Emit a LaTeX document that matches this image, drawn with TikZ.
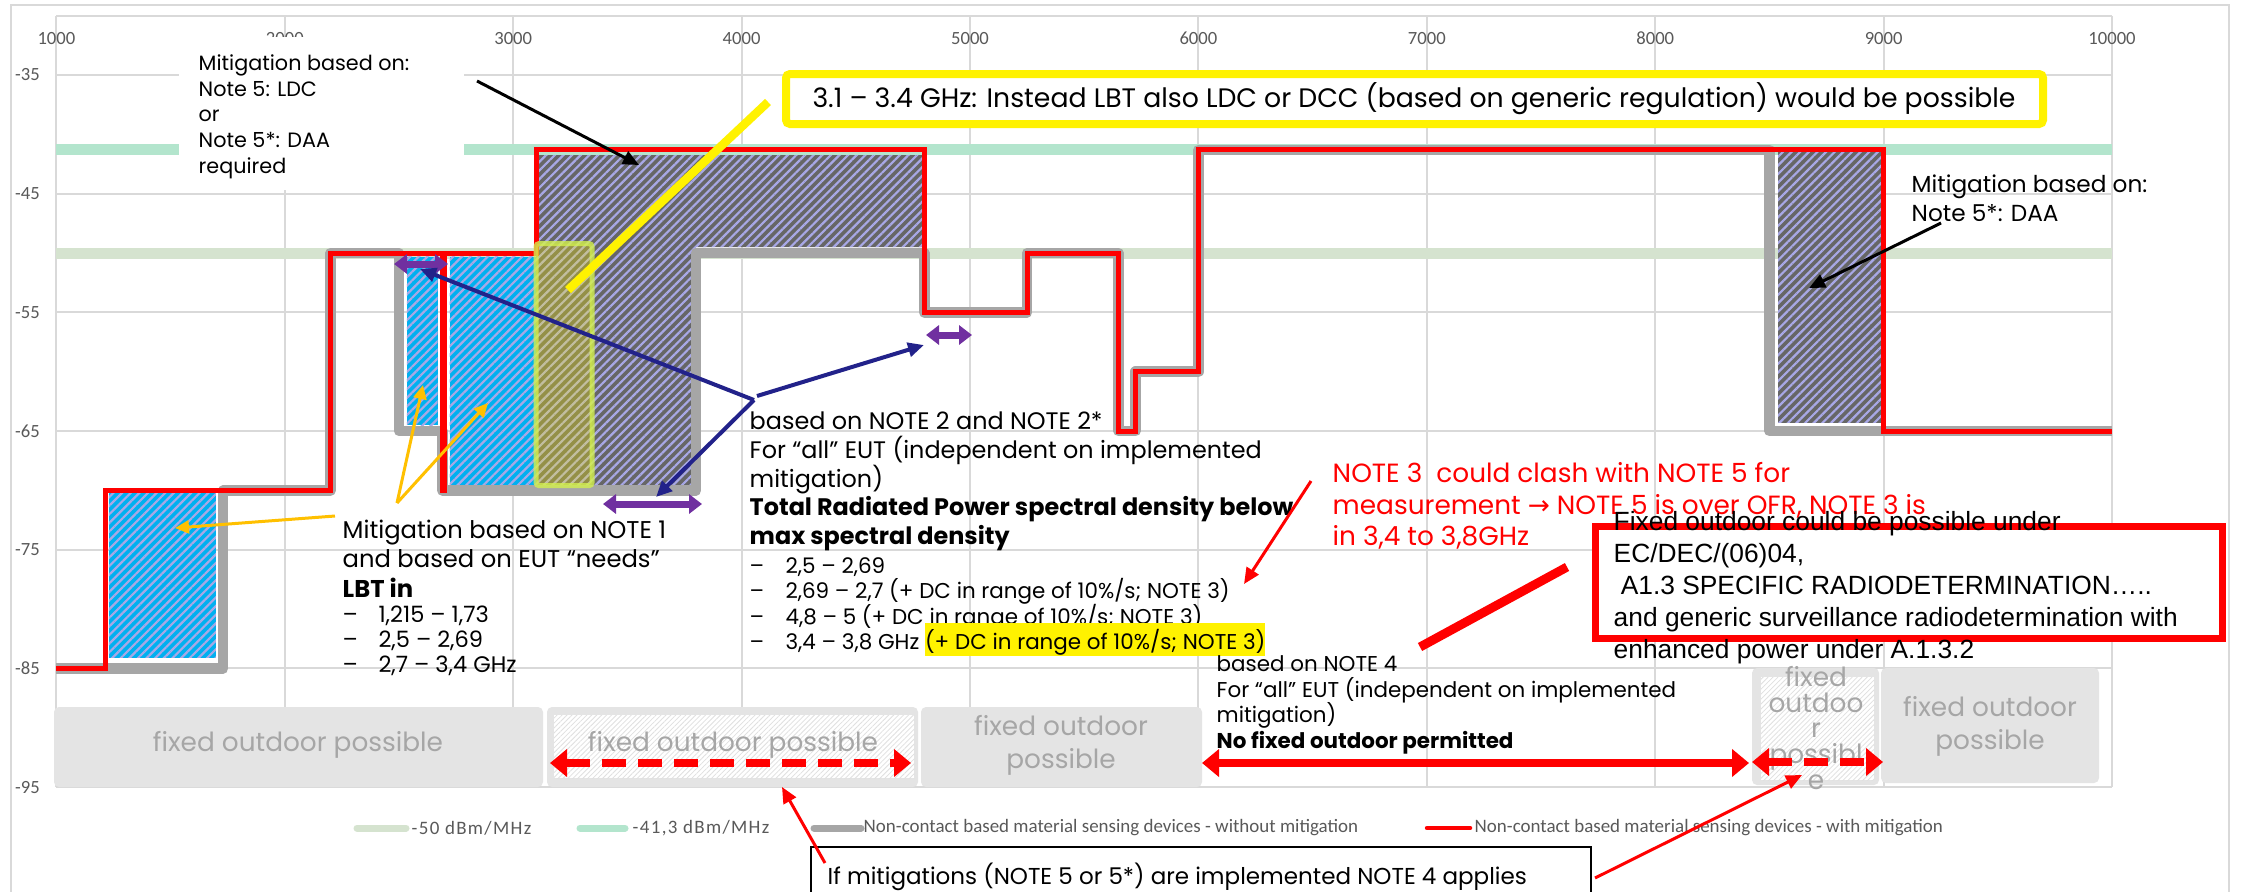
\documentclass[tikz,border=0pt]{standalone}
\usepackage{fontspec}
\setmainfont{Poppins}
\newfontfamily\chartfont{Carlito}
\newfontfamily\boxfont{Liberation Sans}
\newfontfamily\arrowfont{DejaVu Sans}
\usetikzlibrary{arrows.meta,patterns.meta,positioning}

\definecolor{gridgrey}{HTML}{D9D9D9}
\definecolor{axisgrey}{HTML}{595959}
\definecolor{bandgreen}{HTML}{D5E3CF}
\definecolor{bandmint}{HTML}{B3E5CD}
\definecolor{stepgrey}{HTML}{A6A6A6}
\definecolor{hatchgrey}{HTML}{666666}
\definecolor{lavender}{HTML}{A8A8E6}
\definecolor{skyblue}{HTML}{00B0F0}
\definecolor{navyarrow}{HTML}{22228A}
\definecolor{purplearrow}{HTML}{7030A0}
\definecolor{amber}{HTML}{FFC000}
\definecolor{limeedge}{HTML}{D2F050}
\definecolor{outdoorfill}{HTML}{E4E4E4}
\definecolor{outdoortext}{HTML}{A6A6A6}

% list line with en dash
\newcommand\dashitem[1]{\makebox[10.2pt][l]{–}#1}
% smaller list lines of NOTE 2
\newcommand\smallitem[1]{{\fontsize{6.1}{8.2}\selectfont\dashitem{#1}}}
% yellow marker behind text
\newcommand\hlyellow[1]{\smash{\setlength{\fboxsep}{0pt}\colorbox{yellow}{\rule[-2pt]{0pt}{9.4pt}#1}}}

\begin{document}
\begin{tikzpicture}[x=0.1mm, y=-0.1mm]
\tikzset{
  chart/.style={shift={(-17.2mm,34.045mm)}, x=0.02285mm, y=1.187mm},
  gridline/.style={draw=gridgrey, line width=0.2mm},
  ticklabel/.style={font=\chartfont\fontsize{5.3}{6}\selectfont, text=axisgrey, inner sep=0pt},
  band/.style={line width=1.1mm},
  nomit/.style={draw=stepgrey, line width=1.05mm, line join=round},
  withmit/.style={draw=red, line width=0.5mm},
  bluehatch/.style={fill=skyblue, postaction={pattern={Lines[angle=45,distance=0.61mm,line width=0.22mm]}, pattern color=lavender}},
  darkhatch/.style={fill=hatchgrey, postaction={pattern={Lines[angle=45,distance=0.61mm,line width=0.22mm]}, pattern color=lavender}},
  lighthatch/.style={fill=white, postaction={pattern={Lines[angle=45,distance=0.35mm,line width=0.08mm]}, pattern color=black!12}},
  outdoorbox/.style={fill=outdoorfill, rounded corners=0.5mm},
  outdoorlabel/.style={text=outdoortext, align=center, inner sep=0pt, font=\fontsize{7.5}{9.4}\selectfont},
  note/.style={align=left, inner sep=0pt, anchor=north west},
  purplearr/.style={draw=purplearrow, line width=0.7mm, {Triangle[length=1.3mm,width=1.9mm]}-{Triangle[length=1.3mm,width=1.9mm]}},
  navyarr/.style={draw=navyarrow, line width=0.4mm, -{Triangle[length=1.6mm,width=1.4mm]}},
  amberarr/.style={draw=amber, line width=0.3mm, -{Triangle[length=1.4mm,width=1.3mm]}},
  blackarr/.style={draw=black, line width=0.3mm, -{Triangle[length=1.6mm,width=1.4mm]}},
  redarr/.style={draw=red, line width=0.3mm, -{Triangle[length=1.6mm,width=1.4mm]}},
  fixedarr/.style={draw=red, line width=0.8mm, {Triangle[length=1.7mm,width=2.7mm]}-{Triangle[length=1.7mm,width=2.7mm]}},
  legline/.style={line width=0.7mm, line cap=round},
  legtext/.style={font=\chartfont\fontsize{5.4}{6}\selectfont, text=axisgrey, inner sep=0pt, anchor=west},
}
\useasboundingbox (0,0) rectangle (2242,891);
\fill[white] (0,0) rectangle (2242,891);
% chart frame
\draw[gridline] (11,5) rectangle (2229,905);

% grid, axis numbers and the two limits
\begin{scope}[chart]
\foreach \f in {1000,2000,...,10000}
  \draw[gridline] (\f,-95) -- (\f,-30);
\foreach \v in {-30,-35,-45,-55,-65,-75,-85,-95}
  \draw[gridline] (1000,\v) -- (10000,\v);
\foreach \f in {1000,2000,...,10000}
  \node[ticklabel] (xt\f) at (\f,-31.9) {\f};
\foreach \v [count=\i] in {-35,-45,...,-95}
  \node[ticklabel, anchor=east] (yt\i) at (930,\v) {\v};
\draw[band, bandgreen] (1000,-50) -- (10000,-50);
\draw[band, bandmint] (1000,-41.3) -- (10000,-41.3);
\end{scope}

% backdrop of the upper left callout
\fill[white] (179,37) rectangle (464,190);

% mitigated areas and the two masks
\begin{scope}[chart]
\fill[bluehatch] (1230,-70.1) rectangle (1698,-84.1);
\fill[bluehatch] (2534,-50.3) rectangle (2669,-64.5);
\fill[bluehatch] (2722,-50.3) rectangle (3100,-69.8);
\fill[darkhatch] (3100,-41.75) -- (4795,-41.75) -- (4795,-49.5) -- (3800,-49.5)
  -- (3800,-69.7) -- (3100,-69.7) -- cycle;
\fill[darkhatch] (8538,-41.5) rectangle (8993,-64.3);
% without mitigation
\draw[nomit] (1000,-85) -| (1730,-70) -| (2200,-50) -| (2500,-65) -| (2690,-70)
  -| (3800,-50) -| (4800,-55) -| (5250,-50) -| (5650,-65) -| (5725,-60)
  -| (6000,-41.3) -| (8500,-65) -- (10000,-65);
% with mitigation
\draw[withmit] (1000,-85) -| (1215,-70) -| (2200,-50) -| (2690,-70) -| (2700,-50)
  -| (3100,-41.3) -| (4800,-55) -| (5250,-50) -| (5650,-65) -| (5725,-60)
  -| (6000,-41.3) -| (9000,-65) -- (10000,-65);
% 3.1 - 3.4 GHz
\draw[fill=yellow, fill opacity=0.3, draw=limeedge, draw opacity=0.8,
  line width=0.5mm, rounded corners=0.3mm] (3100,-49.2) rectangle (3345,-69.6);
\end{scope}

% fixed outdoor strip
\fill[outdoorbox] (54,707) rectangle (543,787);
\fill[outdoorbox] (547,707) rectangle (918,787);
\fill[lighthatch] (554,715) rectangle (914,778);
\fill[outdoorbox] (921,707) rectangle (1202,787);
\fill[outdoorbox] (1752,668) rectangle (1879,785);
\fill[lighthatch] (1761,677) rectangle (1874,780);
\fill[outdoorbox] (1881,668) rectangle (2099,783);
\node[outdoorlabel] (fixedA) at (298,745) {fixed outdoor possible};
\node[outdoorlabel] (fixedB) at (733,745) {fixed outdoor possible};
\node[outdoorlabel] (fixedC) at (1061,745) {fixed outdoor\\possible};
\node[outdoorlabel, font=\fontsize{7.5}{7.3}\selectfont] (fixedD) at (1816,728) {fixed\\outdoo\\r\\possibl\\e};
\node[outdoorlabel] (fixedE) at (1990,726) {fixed outdoor\\possible};

\coordinate (outdoorAl) at (550,763);
\coordinate (outdoorAr) at (911,763);
\coordinate (nofixl) at (1202,763);
\coordinate (nofixr) at (1749,763);
\coordinate (outdoorBl) at (1752,762);
\coordinate (outdoorBr) at (1883,762);
\draw[fixedarr, dash pattern=on 2.4mm off 1.2mm] (outdoorAl) -- (outdoorAr);
\draw[fixedarr] (nofixl) -- (nofixr);
\draw[fixedarr, dash pattern=on 2.4mm off 1.2mm] (outdoorBl) -- (outdoorBr);

% band markers
\coordinate (bandAl) at (394,264);
\coordinate (bandAr) at (448,264);
\coordinate (bandBl) at (926,335);
\coordinate (bandBr) at (972,335);
\coordinate (bandCl) at (603,504);
\coordinate (bandCr) at (702,504);
\draw[purplearr] (bandAl) -- (bandAr);
\draw[purplearr] (bandBl) -- (bandBr);
\draw[purplearr] (bandCl) -- (bandCr);

% upper left callout
\node[note, font=\fontsize{5.9}{7.3}\selectfont] (ldcnote) at (198,54)
  {Mitigation based on:\\Note 5: LDC\\or\\Note 5*: DAA\\required};
\coordinate (ldctail) at (477,81);
\coordinate (ldctip) at (639,165);
\draw[blackarr] (ldctail) -- (ldctip);

% yellow callout
\draw[yellow, line width=0.8mm, fill=white, rounded corners=0.4mm] (786,74) rectangle (2043,124);
\node[inner sep=0pt, font=\fontsize{7.6}{9}\selectfont] (ldcdcc) at (1414,99)
  {3.1 – 3.4 GHz: Instead LBT also LDC or DCC (based on generic regulation) would be possible};
\coordinate (yellowfoot) at (568,290);
\coordinate (yellowhead) at (768,102);
\draw[yellow, line width=0.85mm] (yellowfoot) -- (yellowhead);

% right callout
\node[note, font=\fontsize{6.6}{8.3}\selectfont] (daanote) at (1911,174)
  {Mitigation based on:\\Note 5*: DAA};
\coordinate (daatail) at (1941,223);
\coordinate (daatip) at (1809,288);
\draw[blackarr] (daatail) -- (daatip);

% NOTE 1
\node[note, font=\fontsize{6.9}{8.4}\selectfont] (noteone) at (342,519)
  {Mitigation based on NOTE 1\\and based on EUT “needs”\\\textbf{LBT in}\\[-1.1pt]%
   {\fontsize{6.4}{8.4}\selectfont\dashitem{1,215 – 1,73}}\\[-1.3pt]%
   {\fontsize{6.4}{8.4}\selectfont\dashitem{2,5 – 2,69}}\\[-1.3pt]%
   {\fontsize{6.4}{8.4}\selectfont\dashitem{2,7 – 3,4 GHz}}};
\coordinate (amberhub) at (397,503);
\coordinate (amberfrom) at (335,516);
\coordinate (amberA) at (175,528);
\coordinate (amberB) at (423,385);
\coordinate (amberC) at (488,403);
\draw[amberarr] (amberfrom) -- (amberA);
\draw[amberarr] (amberhub) -- (amberB);
\draw[amberarr] (amberhub) -- (amberC);

% NOTE 2
\node[note, font=\fontsize{6.8}{8.2}\selectfont] (notetwo) at (749,411)
  {based on NOTE 2 and NOTE 2*\\For “all” EUT (independent on implemented\\mitigation)\\%
   \textbf{Total Radiated Power spectral density below}\\\textbf{max spectral density}\\%
   \smallitem{2,5 – 2,69}\\[-1pt]\smallitem{2,69 – 2,7 (+ DC in range of 10\%/s; NOTE 3)}\\[-1pt]%
   \smallitem{4,8 – 5 (+ DC in range of 10\%/s; NOTE 3)}\\[-1pt]%
   \smallitem{3,4 – 3,8 GHz \hlyellow{(+ DC in range of 10\%/s; NOTE 3)}}};
\coordinate (navyhub) at (754,400);
\coordinate (navyhubb) at (757,396);
\coordinate (navyA) at (420,269);
\coordinate (navyB) at (924,345);
\coordinate (navyC) at (656,497);
\draw[navyarr] (navyhub) -- (navyA);
\draw[navyarr] (navyhubb) -- (navyB);
\draw[navyarr] (navyhub) -- (navyC);

% NOTE 3 remark
\node[note, text=red, font=\fontsize{7.5}{8.9}\selectfont] (clash) at (1332,462)
  {NOTE 3\ \ could clash with NOTE 5 for\\measurement {\arrowfont →} NOTE 5 is over OFR, NOTE 3 is\\in 3,4 to 3,8GHz};
\coordinate (clashtail) at (1311,481);
\coordinate (clashtip) at (1244,584);
\draw[redarr] (clashtail) -- (clashtip);

% NOTE 4
\node[note, font=\fontsize{6.1}{7.3}\selectfont] (notefour) at (1216,655)
  {based on NOTE 4\\For “all” EUT (independent on implemented\\mitigation)\\\textbf{No fixed outdoor permitted}};

% ECC decision box
\draw[red, line width=0.7mm, fill=white] (1595,526) rectangle (2222,638);
\node[note, font=\boxfont\fontsize{7.5}{9.1}\selectfont] (ecdec) at (1613,511)
  {Fixed outdoor could be possible under\\EC/DEC/(06)04,\\\hspace*{2pt}A1.3 SPECIFIC RADIODETERMINATION…..\\%
   and generic surveillance radiodetermination with\\enhanced power under A.1.3.2};
\coordinate (ecdecfoot) at (1567,567);
\coordinate (ecdecend) at (1420,647);
\draw[red, line width=0.9mm] (ecdecfoot) -- (ecdecend);

% legend
\draw[legline, bandgreen] (357,828) -- (406,828);
\node[legtext] (legA) at (411,828) {\addfontfeatures{LetterSpace=7}-50 dBm/MHz};
\draw[legline, bandmint] (580,828) -- (625,828);
\node[legtext] (legB) at (632,828) {\addfontfeatures{LetterSpace=7}-41,3 dBm/MHz};
\draw[legline, stepgrey] (814,828) -- (861,828);
\node[legtext] (legC) at (863,828) {Non-contact based material sensing devices - without mitigation};
\draw[legline, red, line width=0.45mm] (1427,828) -- (1470,828);
\node[legtext] (legD) at (1474,828) {Non-contact based material sensing devices - with mitigation};

% bottom remark
\draw[line width=0.2mm, fill=white] (811,847) rectangle (1591,905);
\node[note, font=\fontsize{6.55}{8}\selectfont] (applies) at (827,862)
  {If mitigations (NOTE 5 or 5*) are implemented NOTE 4 applies};
\coordinate (appliesL) at (825,863);
\coordinate (appliesLtip) at (782,787);
\coordinate (appliesR) at (1595,878);
\coordinate (appliesRtip) at (1802,775);
\draw[redarr] (appliesL) -- (appliesLtip);
\draw[redarr] (appliesR) -- (appliesRtip);
\end{tikzpicture}
\end{document}
